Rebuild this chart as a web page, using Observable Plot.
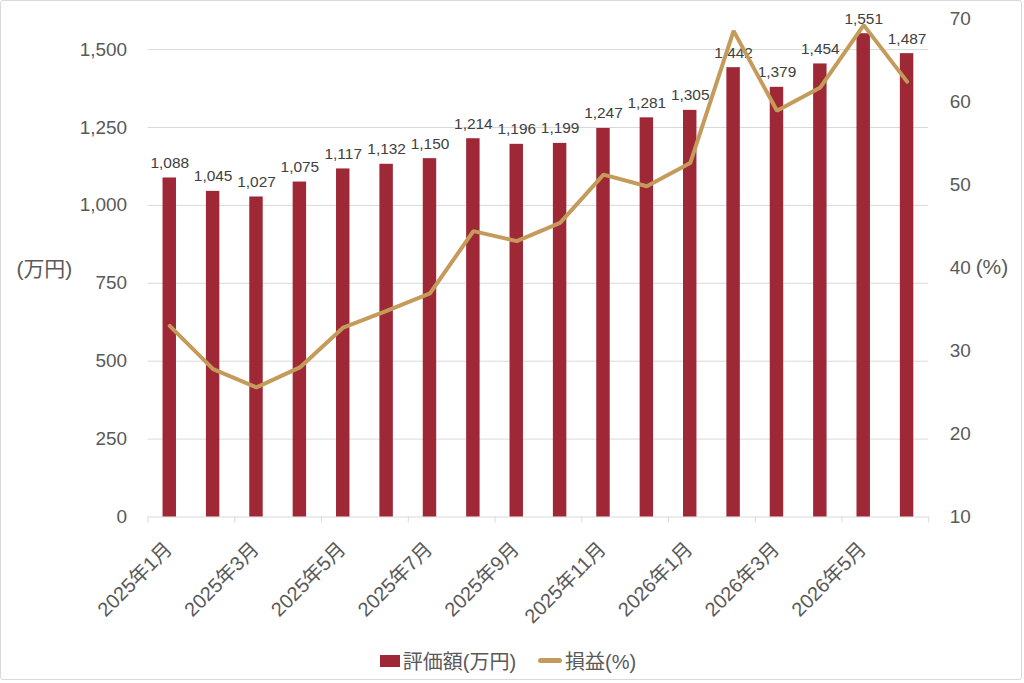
<!DOCTYPE html>
<html>
<head>
<meta charset="utf-8">
<script src="https://cdn.jsdelivr.net/npm/d3@7"></script>
<script src="https://cdn.jsdelivr.net/npm/@observablehq/plot@0.6"></script>
<style>
  html, body { margin: 0; padding: 0; background: #fff; }
  #frame { position: relative; width: 1022px; height: 680px; border: 1px solid #d9d9d9; border-radius: 3px; box-sizing: border-box; overflow: hidden; font-family: "Liberation Sans", Arial, "Noto Sans CJK JP", sans-serif; }
  #chart { position: absolute; left: -1px; top: -1px; }
  #legend { position: absolute; top: 645px; left: -4px; width: 1022px; display: flex; justify-content: center; align-items: center; font-size: 20px; color: #595959; font-family: "Liberation Sans", Arial, "Noto Sans CJK JP", sans-serif; }
  .sw { display: inline-block; margin-right: 3px; }
</style>
</head>
<body>
<div id="frame">
  <div id="chart"></div>
  <div id="legend">
    <span class="sw" style="width:20px;height:12px;background:#9e2836"></span><span>評価額(万円)</span>
    <span style="display:inline-block;width:22px"></span>
    <span class="sw" style="width:24px;height:5px;border-radius:3px;background:#c49b5b"></span><span>損益(%)</span>
  </div>
</div>
<script>
const months = ["2025年1月","2025年2月","2025年3月","2025年4月","2025年5月","2025年6月","2025年7月","2025年8月","2025年9月","2025年10月","2025年11月","2025年12月","2026年1月","2026年2月","2026年3月","2026年4月","2026年5月","2026年6月"];
const values = [1088,1045,1027,1075,1117,1132,1150,1214,1196,1199,1247,1281,1305,1442,1379,1454,1551,1487];
const profit = [33.0,27.8,25.6,28.0,32.8,34.8,36.9,44.4,43.2,45.4,51.2,49.8,52.6,68.5,58.9,61.7,69.2,62.4];
const leftTicks = [0,250,500,750,1000,1250,1500];
const rightTicks = [10,20,30,40,50,60,70];
const labelTicks = months.filter((d, i) => i % 2 === 0);

const LMAX = 1600, RMIN = 10, RMAX = 70;
const toLeft = p => (p - RMIN) / (RMAX - RMIN) * LMAX;
const toRight = v => v / LMAX * (RMAX - RMIN) + RMIN;

const W = 1024, H = 640, mL = 148, mR = 93, mT = 18, mB = 122;
const step = (W - mL - mR) / months.length;

const rows = months.map((m, i) => ({m, v: values[i], p: profit[i]}));
const font = '"Liberation Sans", Arial, "Noto Sans CJK JP", sans-serif';

const chart = Plot.plot({
  width: W, height: H,
  marginLeft: mL, marginRight: mR, marginTop: mT, marginBottom: mB,
  style: {fontFamily: font, color: "#595959", background: "transparent"},
  x: {domain: months, type: "band", paddingInner: 0.69, paddingOuter: 0.345, round: false, axis: null},
  y: {domain: [0, LMAX], axis: null},
  marks: [
    Plot.ruleY(leftTicks, {stroke: "#d9d9d9", strokeWidth: 1}),
    Plot.axisY(leftTicks, {anchor: "left", tickSize: 0, tickPadding: 21, fontSize: 19, fill: "#595959", tickFormat: d3.format(","), label: null}),
    Plot.axisY(rightTicks.map(toLeft), {anchor: "right", tickSize: 0, tickPadding: 21, fontSize: 19, fill: "#595959", tickFormat: d => String(Math.round(toRight(d))), label: null}),
    Plot.axisX(labelTicks, {anchor: "bottom", tickSize: 0, tickPadding: 29, tickRotate: -45, fontSize: 20, fill: "#595959", dx: -1, label: null}),
    Plot.axisX(labelTicks, {anchor: "bottom", tickSize: 6, tickFormat: () => "", stroke: "#d9d9d9", dx: -step / 2, label: null}),
    Plot.axisX([months[months.length - 1]], {anchor: "bottom", tickSize: 6, tickFormat: () => "", stroke: "#d9d9d9", dx: step / 2, label: null}),
    Plot.text(["(万円)"], {frameAnchor: "left", dx: -132, dy: 2, textAnchor: "start", fontSize: 21, fill: "#595959"}),
    Plot.text(["(%)"], {frameAnchor: "right", dx: 47, textAnchor: "start", fontSize: 21, fill: "#595959"}),
    Plot.barY(rows, {x: "m", y: "v", fill: "#9e2836"}),
    Plot.text(rows, {x: "m", y: "v", text: d => d3.format(",")(d.v), dy: -15, fontSize: 15.5, fill: "#404040"}),
    Plot.line(rows, {x: "m", y: d => toLeft(d.p), stroke: "#c49b5b", strokeWidth: 4, strokeLinejoin: "miter", strokeLinecap: "round"})
  ]
});
document.getElementById("chart").appendChild(chart);
</script>
</body>
</html>
